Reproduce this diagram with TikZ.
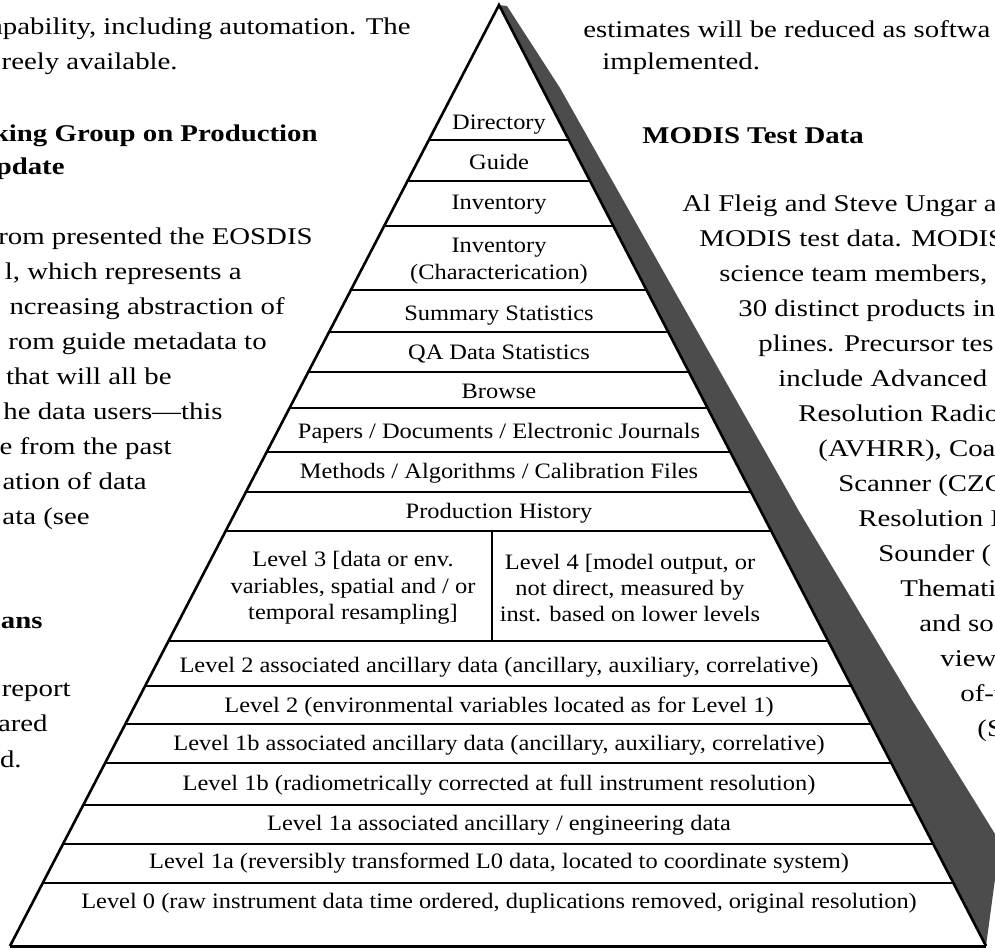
\documentclass[tikz,border=0pt]{standalone}
\usepackage{fontspec}
\setmainfont{Liberation Serif}[FakeStretch=1.11]
\newfontfamily\bodyfont{Liberation Serif}[FakeStretch=1.2]
\usepackage{tikz}
\usetikzlibrary{calc}

\tikzset{
	lvl/.style={font=\fontsize{11}{13.2}\selectfont, inner sep=0pt, anchor=base},
	lvlblock/.style={font=\fontsize{11}{13.2}\selectfont, align=center, inner sep=0pt},
	body/.style={font=\bodyfont\fontsize{12}{13}\selectfont, inner sep=0pt},
	bodyhead/.style={font=\bodyfont\fontsize{12}{13}\selectfont\bfseries, inner sep=0pt},
}

\begin{document}
\begin{tikzpicture}[x=0.5pt, y=-0.5pt]
	
	% Page
	\useasboundingbox (0,0) rectangle (995,949);
	\clip (0,0) rectangle (995,949);
	
	% Pyramid corners
	\coordinate (apex) at (499,5);
	\coordinate (baseL) at (10,946);
	\coordinate (baseR) at (986,946);
	
	% Shadow
	\fill[black!70] (apex) -- (507,6) -- (560,88) -- (653,253) -- (800,513) -- (912,700) -- (1000,842) -- (baseR) -- cycle;
	
	% Outline
	\draw[line width=1.3pt] (baseR) -- (apex) -- (baseL);
	\draw[line width=1.5pt] (baseL) -- (baseR);
	
	% Bands
	\foreach \y in {140,181,226,290,332,372,408,452,492,531,641,686,724,763,805,844,883} {
		\draw[line width=.8pt] ($(apex)!{(\y-5)/941}!(baseL)$) -- ($(apex)!{(\y-5)/941}!(baseR)$);
	}
	\draw[line width=.8pt] (492,531) -- (492,641);
	
	% Levels
	\node[lvl] (dir) at (499,129) {Directory};
	\node[lvl] (guide) at (499,169) {Guide};
	\node[lvl] (inv) at (499,209) {Inventory};
	\node[lvlblock] (invchar) at (499,261) {Inventory\\(Characterication)};
	\node[lvl] (summ) at (499,320) {Summary Statistics};
	\node[lvl] (qa) at (499,359) {QA Data Statistics};
	\node[lvl] (browse) at (499,398) {Browse};
	\node[lvl] (papers) at (499,438) {Papers / Documents / Electronic Journals};
	\node[lvl] (methods) at (499,478) {Methods / Algorithms / Calibration Files};
	\node[lvl] (hist) at (499,518) {Production History};
	\node[lvlblock] (lthree) at (353,588) {Level 3 [data or env.\\variables, spatial and / or\\temporal resampling]};
	\node[lvlblock] (lfour) at (630,588) {Level 4 [model output, or\\not direct, measured by\\inst. based on lower levels};
	\node[lvl] (ltwoanc) at (499,672) {Level 2 associated ancillary data (ancillary, auxiliary, correlative)};
	\node[lvl] (ltwo) at (499,712) {Level 2 (environmental variables located as for Level 1)};
	\node[lvl] (lonebanc) at (499,750) {Level 1b associated ancillary data (ancillary, auxiliary, correlative)};
	\node[lvl] (loneb) at (499,790) {Level 1b (radiometrically corrected at full instrument resolution)};
	\node[lvl] (loneaanc) at (499,830) {Level 1a associated ancillary / engineering data};
	\node[lvl] (lonea) at (499,868) {Level 1a (reversibly transformed L0 data, located to coordinate system)};
	\node[lvl] (lzero) at (499,908) {Level 0 (raw instrument data time ordered, duplications removed, original resolution)};
	
	% Left column
	\node[body, anchor=base east] (left1) at (411,34) {apability, including automation. The};
	\node[body, anchor=base east] (left2) at (178,69) {reely available.};
	\node[bodyhead, anchor=base east] (left3) at (318,141) {king Group on Production};
	\node[bodyhead, anchor=base east] (left4) at (65,174) {pdate};
	\node[body, anchor=base east] (left5) at (313,244) {rom presented the EOSDIS};
	\node[body, anchor=base east] (left6) at (242,279) {l, which represents a};
	\node[body, anchor=base east] (left7) at (285,314) {ncreasing abstraction of};
	\node[body, anchor=base east] (left8) at (267,349) {rom guide metadata to};
	\node[body, anchor=base east] (left9) at (172,384) {that will all be};
	\node[body, anchor=base east] (left10) at (223,419) {he data users—this};
	\node[body, anchor=base east] (left11) at (172,454) {e from the past};
	\node[body, anchor=base east] (left12) at (147,489) {ation of data};
	\node[body, anchor=base east] (left13) at (90,524) {ata (see};
	\node[bodyhead, anchor=base east] (left14) at (43,628) {ans};
	\node[body, anchor=base east] (left15) at (71,696) {report};
	\node[body, anchor=base east] (left16) at (48,731) {ared};
	\node[body, anchor=base east] (left17) at (22,767) {d.};
	
	% Right column
	\node[body, anchor=base west] (right1) at (583,37) {estimates will be reduced as softwa};
	\node[body, anchor=base west] (right2) at (602,69) {implemented.};
	\node[bodyhead, anchor=base west] (right3) at (642,143) {MODIS Test Data};
	\node[body, anchor=base west] (right4) at (682,211) {Al Fleig and Steve Ungar a};
	\node[body, anchor=base west] (right5) at (699,246) {MODIS test data. MODIS};
	\node[body, anchor=base west] (right6) at (719,281) {science team members,};
	\node[body, anchor=base west] (right7) at (738,316) {30 distinct products in};
	\node[body, anchor=base west] (right8) at (758,351) {plines. Precursor tes};
	\node[body, anchor=base west] (right9) at (778,386) {include Advanced};
	\node[body, anchor=base west] (right10) at (798,421) {Resolution Radio};
	\node[body, anchor=base west] (right11) at (818,456) {(AVHRR), Coas};
	\node[body, anchor=base west] (right12) at (838,491) {Scanner (CZC};
	\node[body, anchor=base west] (right13) at (858,526) {Resolution I};
	\node[body, anchor=base west] (right14) at (878,561) {Sounder (};
	\node[body, anchor=base west] (right15) at (900,596) {Themati};
	\node[body, anchor=base west] (right16) at (919,631) {and so};
	\node[body, anchor=base west] (right17) at (940,666) {view};
	\node[body, anchor=base west] (right18) at (960,701) {of-v};
	\node[body, anchor=base west] (right19) at (977,736) {(S};
\end{tikzpicture}
\end{document}
